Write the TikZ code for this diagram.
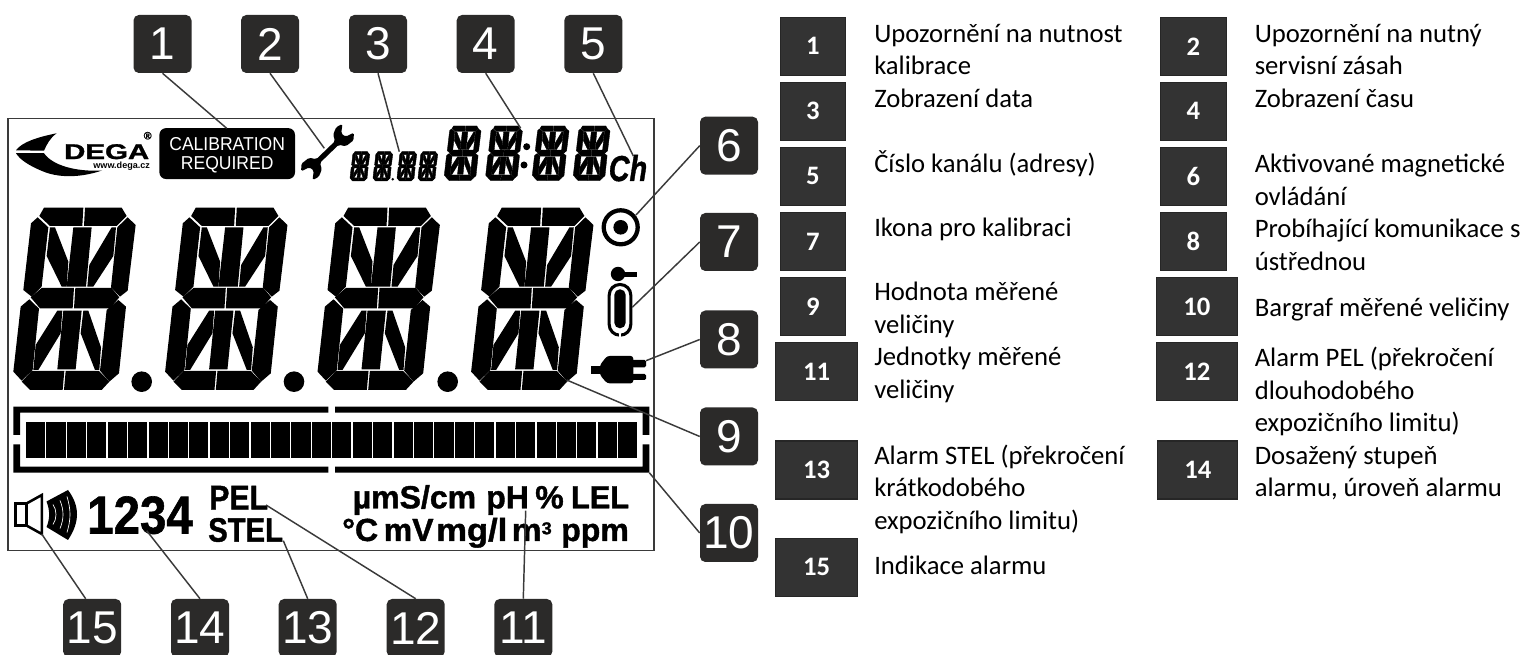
\documentclass[tikz,border=0pt]{standalone}
\usepackage{fontspec}
\setmainfont{Liberation Sans}
\newfontfamily\legendfont{Carlito}
\newfontfamily\heavyfont{Liberation Sans}[BoldFeatures={FakeBold=1.2}, BoldItalicFeatures={FakeBold=1.2}]
\usetikzlibrary{positioning, calc}
\definecolor{boxdark}{HTML}{2B2A29}
\definecolor{legenddark}{HTML}{333333}
\definecolor{leader}{HTML}{3A3A3A}
\newcommand{\fsize}[1]{\fontsize{#1}{#1}\selectfont}

\begin{document}
\begin{tikzpicture}[
    x=0.75pt, y=-0.75pt,
    callout/.style={
      rectangle, rounded corners=4pt, fill=boxdark, text=white,
      minimum size=43.5pt, inner sep=0pt, font=\fsize{34.5}
    },
    legendbox/.style={
      rectangle, draw=black!85, line width=0.8pt, fill=legenddark, text=white,
      minimum height=43.5pt, inner sep=0pt, font=\legendfont\bfseries\fsize{20}
    },
    smallbox/.style={legendbox, minimum width=49pt},
    widebox/.style={legendbox, minimum width=61pt},
    legend/.style={
      anchor=west, align=left, inner sep=0pt, text=black,
      font=\legendfont\fontsize{20}{24.4}\selectfont
    },
    leaderline/.style={draw=leader, line width=1.1pt},
    lcdtext/.style={anchor=base west, inner sep=0pt},
    unit/.style={lcdtext, font=\heavyfont\bfseries\fsize{24}},
    lcdchar/.pic={
      \fill (132,113) -- (250,113) -- (247,168) -- (150,168) -- (118,138) -- cycle;
      \fill (255,113) -- (365,113) -- (380,138) -- (350,168) -- (252,168) -- cycle;
      \fill (113,142) -- (145,172) -- (125,350) -- (95,380) -- (70,360) -- (93,160) -- cycle;
      \fill (150,172) -- (165,172) -- (205,275) -- (200,350) -- (185,350) -- (140,258) -- cycle;
      \fill (220,172) -- (275,172) -- (258,350) -- (200,350) -- cycle;
      \fill (335,172) -- (348,172) -- (340,258) -- (280,350) -- (262,350) -- (268,285) -- cycle;
      \fill (383,142) -- (407,165) -- (383,362) -- (360,380) -- (333,352) -- (352,172) -- cycle;
      \fill (125,354) -- (222,354) -- (218,415) -- (120,415) -- (92,382) -- cycle;
      \fill (226,354) -- (335,354) -- (358,382) -- (330,415) -- (222,415) -- cycle;
      \fill (88,388) -- (117,416) -- (98,600) -- (65,632) -- (40,605) -- (62,410) -- cycle;
      \fill (172,422) -- (187,422) -- (182,490) -- (115,600) -- (100,600) -- (107,525) -- cycle;
      \fill (190,422) -- (245,422) -- (227,598) -- (172,598) -- cycle;
      \fill (250,422) -- (265,422) -- (303,532) -- (298,600) -- (285,600) -- (242,490) -- cycle;
      \fill (355,390) -- (378,410) -- (357,610) -- (328,635) -- (300,602) -- (320,420) -- cycle;
      \fill (95,603) -- (193,603) -- (188,660) -- (90,660) -- (65,635) -- cycle;
      \fill (197,603) -- (297,603) -- (328,635) -- (305,660) -- (192,660) -- cycle;
    }
  ]

  \useasboundingbox (0,0) rectangle (1522,655);

  % LCD frame
  \node[draw=leader, line width=1.1pt, minimum width=484.7pt, minimum height=324pt,
        inner sep=0pt] (lcd) at (331,334.5) {};

  % Logo
  \fill (56.7,133.3) .. controls (38,137) and (22,142) .. (16,150.3) -- (44,150.7)
        .. controls (47,144) and (50,138) .. (56.7,133.3) -- cycle;
  \fill (16,153.2) -- (44,153.2) .. controls (52,165) and (75,172) .. (102,170.5)
        .. controls (80,178) and (58,178) .. (42,171) .. controls (30,166) and (20,160) .. (16,153.2) -- cycle;
  \node[inner sep=0pt, font=\heavyfont\bfseries\fsize{16}] (dega) at (106.7,151.7) {\scalebox{1.38}[1]{DEGA}};
  \node[inner sep=0pt, font=\bfseries\fsize{6.8}] (www) at (121.7,166) {www.dega.cz};
  \node[inner sep=0pt, font=\heavyfont\bfseries\fsize{8}] (reg) at (147.7,135.7) {®};

  % Calibration flag
  \node[fill=black, rounded corners=5pt, minimum width=101.7pt, minimum height=38.2pt,
        inner sep=0pt] (calib) at (227.2,153.6) {};
  \node[text=white, inner sep=0pt, align=center, font=\fontsize{14}{14}\selectfont] (calibtext)
        at (227.2,155) {\scalebox{0.94}[1]{CALIBRATION}\\\scalebox{0.94}[1]{REQUIRED}};

  % Wrench
  \begin{scope}[shift={(327.5,152)}, rotate=44, scale=1.08]
    \fill[rounded corners=1.2pt]
      (12,-2.4) -- (15,-8) -- (22,-11) -- (28,-9) -- (21,-3.5) -- (22,1.5) -- (30,4) -- (25,9) -- (16,8) -- (12,2.4)
      -- (-12,2.4) -- (-15,8) -- (-22,11) -- (-28,9) -- (-21,3.5) -- (-22,-1.5) -- (-30,-4) -- (-25,-9) -- (-16,-8) -- (-12,-2.4) -- cycle;
  \end{scope}

  % Date and time
  \begin{scope}[every path/.append style={draw, line width=0.3pt}]
    \foreach \px in {350, 373, 397, 418}
      \pic[scale=0.0536] at (\px-2.14,145.6) {lcdchar};
  \end{scope}
  \fill (392.7,179.3) circle (1.4);
  \begin{scope}[every path/.append style={draw, line width=0.25pt}]
    \foreach \px in {440.3, 481.7, 528.3, 569.3}
      \pic[scale=0.1] at (\px,114.7) {lcdchar};
  \end{scope}
  \fill (526.7,146.7) circle (3.5);
  \fill (524,165) circle (3.5);
  \node[lcdtext, font=\heavyfont\bfseries\itshape\fsize{27}] (ch) at (608.5,181)
    {\scalebox{0.8}[1]{Ch}};

  % Main digits
  \foreach \px in {0, 151.8, 304.2, 457.8}
    \pic[scale=0.3333] at (\px,170) {lcdchar};
  \foreach \px in {141.7, 294, 447.7}
    \fill (\px,381.7) circle (10.3);

  % Magnetic control, cylinder, plug
  \draw[line width=3.2pt] (620.7,227.3) circle (17);
  \fill (620.7,227.3) circle (7.3);
  \fill (618,274) circle (7.2);
  \fill (622,272.5) rectangle (636.7,277.5);
  \draw[line width=2.3pt, rounded corners=8pt] (609.2,284.5) rectangle (630.8,335.2);
  \draw[white, line width=1pt] (620,329.5) -- (620,337.5);
  \fill[rounded corners=4.2pt] (614.3,289.3) rectangle (625.7,328.3);
  \fill[rounded corners=2pt] (607,356) -- (633.3,356) -- (633.3,383.3) -- (607,383.3) -- (600,375) -- (600,365) -- cycle;
  \fill (590.7,366) rectangle (600.5,374);
  \fill[rounded corners=1pt] (632,360) rectangle (646,367.3);
  \fill[rounded corners=1pt] (632,374) rectangle (646,380);

  % Bargraph
  \fill (13.3,406.7) -- (328.3,406.7) -- (328.3,412.7) -- (20,412.7) -- (20,435) -- (13.3,435) -- cycle;
  \fill (13.3,444.3) -- (20,444.3) -- (20,466.7) -- (328.3,466.7) -- (328.3,472.7) -- (13.3,472.7) -- cycle;
  \fill (335,406.7) -- (649.3,406.7) -- (649.3,435) -- (642.7,435) -- (642.7,412.7) -- (335,412.7) -- cycle;
  \fill (335,466.7) -- (642.7,466.7) -- (642.7,444.3) -- (649.3,444.3) -- (649.3,472.7) -- (335,472.7) -- cycle;
  \foreach \i in {0,...,29}
    \fill ({26+20.42*\i},421.7) rectangle ({26+20.42*\i+19.1},458.3);

  % Speaker
  \draw[line width=1.9pt, line join=miter] (15.5,503.5) rectangle (26.5,525.5);
  \draw[line width=1.9pt, line join=miter] (26.5,503.5) -- (41.8,495) -- (41.8,534) -- (26.5,525.5);
  \fill (46.5,501.5) .. controls (50,510) and (50,519) .. (46.5,527) -- (68,540)
        .. controls (80,522) and (80,506) .. (68,490) -- cycle;
  \foreach \gx/\gy in {53/10, 60/14, 67/18}
    \draw[white, line width=0.5pt] (\gx,514.5-\gy) .. controls (\gx+4,510) and (\gx+4,519) .. (\gx,514.5+\gy);

  % Alarm level and units
  \node[lcdtext, font=\heavyfont\bfseries\fsize{40}] (lvl) at (87,533.5)
    {\scalebox{0.89}[1]{1234}};
  \node[lcdtext, font=\heavyfont\bfseries\fsize{25.5}] (pel) at (209,509.3)
    {\scalebox{0.89}[1]{PEL}};
  \node[lcdtext, font=\heavyfont\bfseries\fsize{25.5}] (stel) at (208,541.7)
    {\scalebox{0.86}[1]{STEL}};
  \node[unit] (umscm) at (352.5,508.3) {µmS/cm};
  \node[unit] (ph) at (486,508.3) {pH};
  \node[unit] (pct) at (535,508.3) {\%};
  \node[unit] (lel) at (570.8,508.3) {\scalebox{0.96}[1]{LEL}};
  \node[unit] (degc) at (342,541) {°C};
  \node[unit] (mv) at (383.5,541) {mV};
  \node[unit] (mgl) at (436,541) {\scalebox{1.08}[1]{mg/l}};
  \node[unit] (m3) at (511.5,541) {\scalebox{1.05}[1]{m\raisebox{5pt}{\fsize{13}3}}};
  \node[unit] (ppm) at (561,541) {ppm};

  % Callouts
  \node[callout] (b1) at (162.5,44) {1};
  \node[callout] (b2) at (270,44) {2};
  \node[callout] (b3) at (378,44) {3};
  \node[callout] (b4) at (485.7,44) {4};
  \node[callout] (b5) at (593.3,44) {5};
  \node[callout] (b6) at (729,145.7) {6};
  \node[callout] (b7) at (729,242) {7};
  \node[callout] (b8) at (729,339.5) {8};
  \node[callout] (b9) at (729,436.5) {9};
  \node[callout] (b10) at (729,533) {10};
  \node[callout] (b11) at (523.3,628) {11};
  \node[callout] (b12) at (415.7,628) {12};
  \node[callout] (b13) at (307.7,628) {13};
  \node[callout] (b14) at (200,628) {14};
  \node[callout] (b15) at (92.2,628) {15};

  % Leader ends
  \coordinate (t1) at (226.7,128.3);
  \coordinate (t2) at (324.3,148.3);
  \coordinate (t3) at (399.3,151.7);
  \coordinate (t4) at (520.7,128.3);
  \coordinate (t5) at (633.3,156);
  \coordinate (t6) at (636,215);
  \coordinate (t7) at (632.3,307.3);
  \coordinate (t8) at (646,360.7);
  \coordinate (t9) at (566.7,380);
  \coordinate (t10) at (649.3,472.7);
  \coordinate (t11) at (525.7,510.7);
  \coordinate (t12) at (266,505);
  \coordinate (t13) at (283.3,540.7);
  \coordinate (t14) at (146.7,530.7);
  \coordinate (t15) at (41.7,534);

  \draw[leaderline] (b1.south) -- (t1);
  \draw[leaderline] (b2.south) -- (t2);
  \draw[leaderline] (b3.south) -- (t3);
  \draw[leaderline] (b4.south) -- (t4);
  \draw[leaderline] (b5.south) -- (t5);
  \draw[leaderline] (b6.west) -- (t6);
  \draw[leaderline] (b7.west) -- (t7);
  \draw[leaderline] (b8.west) -- (t8);
  \draw[leaderline] (b9.west) -- (t9);
  \draw[leaderline] (b10.west) -- (t10);
  \draw[leaderline] (b11.north) -- (t11);
  \draw[leaderline] (b12.north) -- (t12);
  \draw[leaderline] (b13.north) -- (t13);
  \draw[leaderline] (b14.north) -- (t14);
  \draw[leaderline] ([xshift=-4.9pt]b15.north) -- (t15);

  % Legend, left column
  \node[smallbox] (l1) at (812.8,46.3) {1};
  \node[smallbox] (l3) at (812.8,111.3) {3};
  \node[smallbox] (l5) at (812.8,176.3) {5};
  \node[smallbox] (l7) at (812.8,241.5) {7};
  \node[smallbox] (l9) at (812.8,306.5) {9};
  \node[widebox]  (l11) at (816.6,371.6) {11};
  \node[widebox]  (l13) at (816.6,470) {13};
  \node[widebox]  (l15) at (816.6,567.3) {15};

  % Legend, right column
  \node[smallbox] (l2) at (1193.4,46.3) {2};
  \node[smallbox] (l4) at (1193.4,111.3) {4};
  \node[smallbox] (l6) at (1193.4,176.3) {6};
  \node[smallbox] (l8) at (1193.4,241.5) {8};
  \node[widebox]  (l10) at (1196.8,306.5) {10};
  \node[widebox]  (l12) at (1196.8,371.6) {12};
  \node[widebox, minimum width=60pt] (l14) at (1197.8,470) {14};

  % Legend texts
  \node[legend] (d1) at (874,49.5) {Upozornění na nutnost\\kalibrace};
  \node[legend] (d3) at (874,98.3) {Zobrazení data};
  \node[legend] (d5) at (874,164) {Číslo kanálu (adresy)};
  \node[legend] (d7) at (874,229.3) {Ikona pro kalibraci};
  \node[legend] (d9) at (874,309.7) {Hodnota měřené\\veličiny};
  \node[legend] (d11) at (874,375) {Jednotky měřené\\veličiny};
  \node[legend] (d13) at (874,489.3) {Alarm STEL (překročení\\krátkodobého\\expozičního limitu)};
  \node[legend] (d15) at (874,565) {Indikace alarmu};
  \node[legend] (d2) at (1254.5,49.5) {Upozornění na nutný\\servisní zásah};
  \node[legend] (d4) at (1254.5,98.3) {Zobrazení času};
  \node[legend] (d6) at (1254.5,180) {Aktivované magnetické\\ovládání};
  \node[legend] (d8) at (1254.5,245) {Probíhající komunikace s\\ústřednou};
  \node[legend] (d10) at (1254.5,310) {Bargraf měřené veličiny};
  \node[legend] (d12) at (1254.5,391.5) {Alarm PEL (překročení\\dlouhodobého\\expozičního limitu)};
  \node[legend] (d14) at (1254.5,473) {Dosažený stupeň\\alarmu, úroveň alarmu};

\end{tikzpicture}
\end{document}
